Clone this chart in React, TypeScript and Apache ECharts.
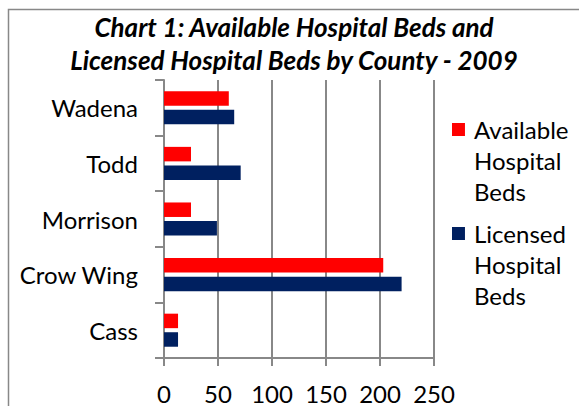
import React, { useEffect, useRef } from "react";
import * as echarts from "echarts";

const counties = ["Cass", "Crow Wing", "Morrison", "Todd", "Wadena"];
const availableBeds = [13, 203, 25, 25, 60];
const licensedBeds = [13, 220, 49, 71, 65];
const xTicks = { min: 0, max: 250, interval: 50 };
const seriesNames = ["Available\nHospital\nBeds", "Licensed\nHospital\nBeds"];
const titleText = "Chart 1: Available Hospital Beds and\nLicensed Hospital Beds by County - 2009";

const FONT = "Lato";
const GRAY = "#888888";
// legend icon: square near top with tiny specks to extend the box
const ICON = "path://M0,0h0.05v0.05h-0.05zM0,9h13v13h-13zM17,93h0.05v0.05h-0.05z";

export default function App() {
  const ref = useRef<HTMLDivElement>(null);
  useEffect(() => {
    if (!ref.current) return;
    const chart = echarts.init(ref.current, null, { renderer: "svg" });
    chart.setOption({
      animation: false,
      backgroundColor: "#ffffff",
      textStyle: { fontFamily: FONT },
      title: {
        text: titleText,
        left: 294,
        textAlign: "center",
        top: 10,
        padding: 0,
        textStyle: {
          fontFamily: FONT,
          fontSize: 26,
          fontWeight: "bold",
          fontStyle: "italic",
          color: "#000000",
          lineHeight: 33,
        },
      },
      graphic: [
        {
          type: "rect",
          shape: { x: 8.5, y: 9.5, width: 700, height: 600 },
          style: { fill: "none", stroke: GRAY, lineWidth: 1.5 },
          silent: true,
          z: -1,
        },
      ],
      legend: {
        orient: "vertical",
        left: 452,
        top: 114,
        padding: 0,
        itemGap: 11,
        itemWidth: 17,
        itemHeight: 93,
        icon: ICON,
        textStyle: { fontFamily: FONT, fontSize: 24, lineHeight: 31, color: "#000000" },
        data: seriesNames,
      },
      grid: { left: 164, top: 80, width: 270, height: 278, containLabel: false },
      xAxis: {
        type: "value",
        min: xTicks.min,
        max: xTicks.max,
        interval: xTicks.interval,
        axisLine: { show: true, lineStyle: { color: GRAY, width: 2 } },
        axisTick: { show: true, length: 8, lineStyle: { color: GRAY, width: 2 } },
        splitLine: { show: true, lineStyle: { color: GRAY, width: 2 } },
        axisLabel: { fontFamily: FONT, fontSize: 24, color: "#000000", margin: 23 },
      },
      yAxis: {
        type: "category",
        data: counties,
        axisLine: { show: true, lineStyle: { color: GRAY, width: 2 } },
        axisTick: { show: true, length: 9, lineStyle: { color: GRAY, width: 2 } },
        axisLabel: { fontFamily: FONT, fontSize: 24, color: "#000000", margin: 26 },
      },
      series: [
        {
          name: seriesNames[0],
          type: "bar",
          data: availableBeds,
          barWidth: 14.5,
          barGap: "28%",
          itemStyle: { color: "#FF0000" },
        },
        {
          name: seriesNames[1],
          type: "bar",
          data: licensedBeds,
          barWidth: 14.5,
          barGap: "28%",
          itemStyle: { color: "#002060" },
        },
      ],
    });
    return () => chart.dispose();
  }, []);
  return (
    <div
      ref={ref}
      style={{ position: "absolute", left: 0, top: 0, width: 579, height: 406 }}
    />
  );
}
